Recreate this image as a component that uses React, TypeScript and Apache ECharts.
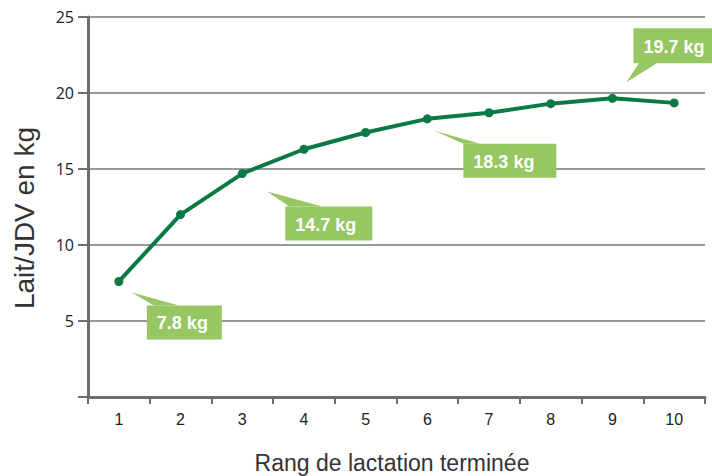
import React, { useEffect, useRef } from "react";
import * as echarts from "echarts";

const categories = ["1", "2", "3", "4", "5", "6", "7", "8", "9", "10"];
const milkPerDay = [7.6, 12.0, 14.7, 16.3, 17.4, 18.3, 18.7, 19.3, 19.65, 19.35];
const yTicks = [0, 5, 10, 15, 20, 25];
const calloutIndex = [0, 2, 5, 8];
const calloutText = ["7.8 kg", "14.7 kg", "18.3 kg", "19.7 kg"];

// layout of each callout, relative to its data point (pixels)
const calloutLayout = [
  { tip: [13, 11], base: [[35, 24], [60, 24]], box: [28, 24, 75, 34] },
  { tip: [25, 18], base: [[47, 33], [80, 33]], box: [43, 33, 87, 34] },
  { tip: [7, 12], base: [[36, 25], [53, 25]], box: [36, 25, 93, 34] },
  { tip: [14, -16], base: [[27, -36], [46, -36]], box: [21, -70, 84, 35] },
];

const LINE_GREEN = "#0a7a45";
const BOX_GREEN = "#97c762";
const AXIS_GREY = "#6d6e71";
const GRID_GREY = "#98999c";

export default function App() {
  const ref = useRef<HTMLDivElement>(null);
  useEffect(() => {
    document.body.style.margin = "0";
    const chart = echarts.init(ref.current!, null, { renderer: "svg" });
    chart.setOption({
      animation: false,
      grid: { left: 88, right: 7, top: 17, bottom: 79, containLabel: false, outerBoundsMode: "none" },
      xAxis: {
        type: "category",
        data: categories,
        boundaryGap: true,
        name: "Rang de lactation terminée",
        nameLocation: "middle",
        nameGap: 54,
        nameTextStyle: {
          fontSize: 23,
          color: "#333",
          fontFamily: "Liberation Sans, Arial, sans-serif",
          padding: [0, 9, 0, 0],
        },
        axisLine: { lineStyle: { color: AXIS_GREY, width: 3 } },
        axisTick: { show: true, length: 7, lineStyle: { color: AXIS_GREY, width: 2 } },
        axisLabel: { color: "#222", fontSize: 16, margin: 14, fontFamily: "Liberation Sans, Arial, sans-serif" },
        splitLine: { show: false },
      },
      yAxis: {
        type: "value",
        min: yTicks[0],
        max: yTicks[yTicks.length - 1],
        interval: 5,
        name: "Lait/JDV en kg",
        nameLocation: "middle",
        nameGap: 50,
        nameTextStyle: {
          fontSize: 28,
          color: "#333",
          fontFamily: "Liberation Sans, Arial, sans-serif",
          padding: [0, 22, 0, 0],
        },
        axisLine: { show: true, lineStyle: { color: AXIS_GREY, width: 3 } },
        axisTick: { show: true, length: 10, lineStyle: { color: AXIS_GREY, width: 2 } },
        axisLabel: {
          color: "#222",
          fontSize: 16,
          margin: 14,
          fontFamily: "Open Sans, sans-serif",
          formatter: (v: number) => (v === 0 ? "" : String(v)),
        },
        splitLine: { show: true, lineStyle: { color: GRID_GREY, width: 2 } },
      },
      series: [
        {
          type: "line",
          data: milkPerDay,
          symbol: "circle",
          symbolSize: 9,
          lineStyle: { color: LINE_GREEN, width: 4 },
          itemStyle: { color: LINE_GREEN },
          z: 5,
        },
      ],
    });

    const elements: any[] = [];
    calloutIndex.forEach((idx, i) => {
      const p = chart.convertToPixel({ seriesIndex: 0 }, [idx, milkPerDay[idx]]) as number[];
      const L = calloutLayout[i];
      const [bx, by, bw, bh] = L.box;
      elements.push({
        type: "polygon",
        z: 10,
        shape: {
          points: [
            [p[0] + L.tip[0], p[1] + L.tip[1]],
            [p[0] + L.base[0][0], p[1] + L.base[0][1]],
            [p[0] + L.base[1][0], p[1] + L.base[1][1]],
          ],
        },
        style: { fill: BOX_GREEN },
      });
      elements.push({
        type: "rect",
        z: 10,
        shape: { x: p[0] + bx, y: p[1] + by, width: bw, height: bh },
        style: { fill: BOX_GREEN },
      });
      elements.push({
        type: "text",
        z: 11,
        x: p[0] + bx + 10,
        y: p[1] + by + bh / 2 + 1,
        style: {
          text: calloutText[i],
          fill: "#ffffff",
          fontSize: 18,
          fontWeight: "bold",
          fontFamily: "Liberation Sans, Arial, sans-serif",
          textAlign: "left",
          textVerticalAlign: "middle",
        },
      });
    });
    chart.setOption({ graphic: { elements } });

    return () => chart.dispose();
  }, []);
  return <div ref={ref} style={{ width: 712, height: 476 }} />;
}
